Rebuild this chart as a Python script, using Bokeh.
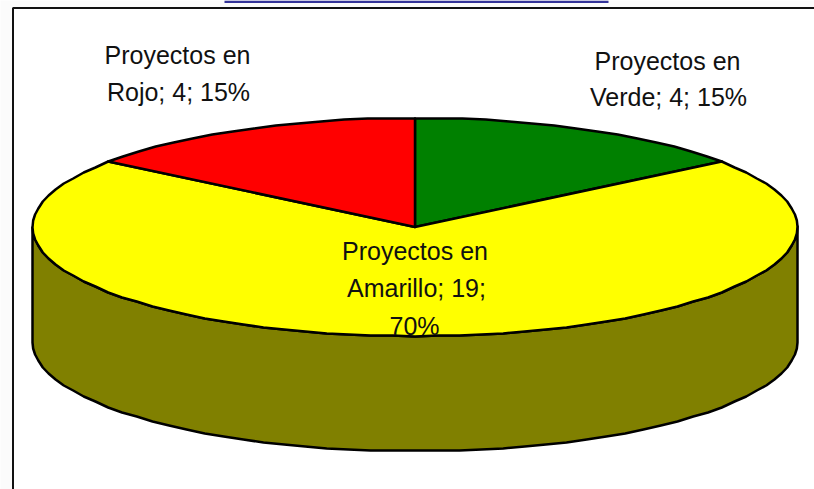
import numpy as np
from bokeh.plotting import figure
from bokeh.embed import file_html
from bokeh.resources import INLINE
from bokeh.core.properties import value

names = ["Proyectos en Verde", "Proyectos en Amarillo", "Proyectos en Rojo"]
counts = [4, 19, 4]
colors = ["#008000", "#FFFF00", "#FF0000"]
side_color = "#808000"
labels = [
    ("Proyectos en", 667, 60), ("Verde; 4; 15%", 668, 96),
    ("Proyectos en", 414.5, 250), ("Amarillo; 19;", 416, 287), ("70%", 414, 325),
    ("Proyectos en", 177, 54), ("Rojo; 4; 15%", 178, 91),
]

cx, cy, rx, ry, depth = 414.5, 226.5, 382.5, 109.0, 115.0
FONT = "Liberation Sans"

p = figure(width=814, height=489, x_range=(0, 814), y_range=(489, 0),
           output_backend="svg", toolbar_location=None, min_border=0,
           outline_line_color=None, background_fill_color="#fbfbfb",
           border_fill_color="#fbfbfb")
p.axis.visible = False
p.grid.visible = False
p.styles = {"position": "absolute", "left": "0px", "top": "0px"}

# page furniture
p.quad(left=[224], right=[608], top=[0], bottom=[2.5], fill_color="#333399", line_color=None)
p.quad(left=[12.5], right=[820], top=[7.5], bottom=[500], fill_color="white",
       line_color="#111111", line_width=2)


def rim(a0, a1, dy=0.0):
    # coarse polyline, as the original outline is slightly faceted
    n = max(8, int(round(abs(a1 - a0) / (2 * np.pi) * 110)))
    t = np.linspace(a0, a1, n)
    x = cx + rx * np.sin(t)
    y = np.round(cy + dy - ry * np.cos(t))
    return x, y


# side wall
xt, yt = rim(np.pi / 2, 3 * np.pi / 2)
xb, yb = rim(3 * np.pi / 2, np.pi / 2, depth)
p.patch(np.r_[xt, xb], np.r_[yt, yb], fill_color=side_color, line_color="black",
        line_width=2.5, line_join="round")

# top slices, clockwise from 12 o'clock
total = sum(counts)
start = 0.0
for count, color in zip(counts, colors):
    end = start + 2 * np.pi * count / total
    xr, yr = rim(start, end)
    p.patch(np.r_[cx, xr], np.r_[cy, yr], fill_color=color, line_color="black",
            line_width=2.5, line_join="round")
    start = end

for txt, x, y in labels:
    p.text([x], [y], text=[txt], text_font=value(FONT), text_font_size="25px",
           text_color="#111111", text_align="center", text_baseline="middle")

open("out.html", "w").write(file_html(p, INLINE))
